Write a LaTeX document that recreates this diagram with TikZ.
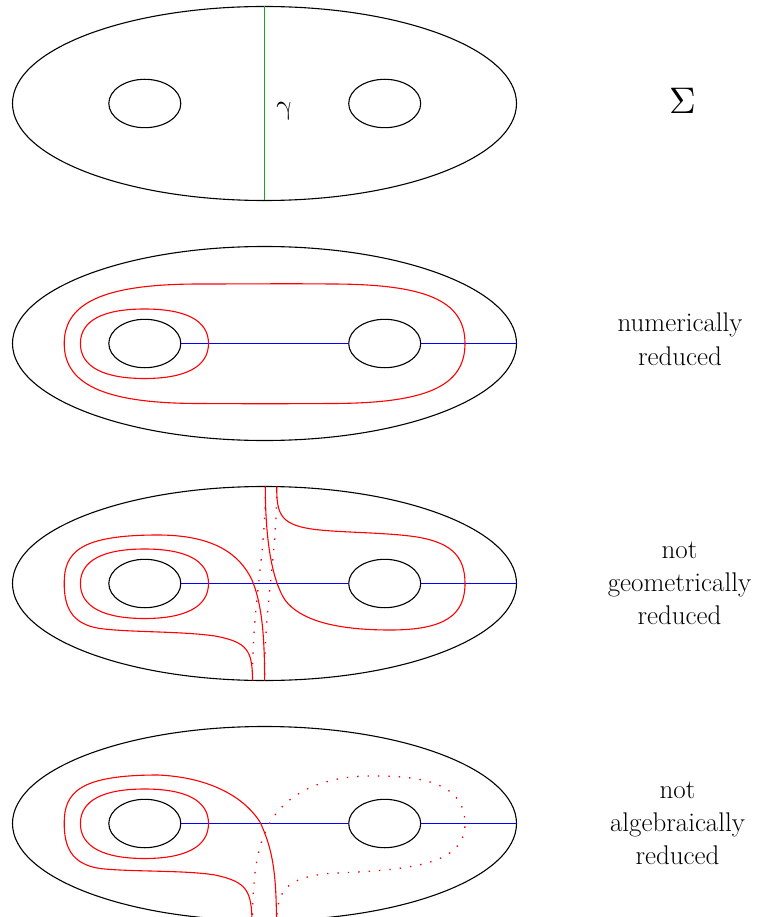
\documentclass[tikz,border=0pt]{standalone}
\usepackage{fontspec}
\newfontfamily\lmgreek{latinmodern-math.otf}
\definecolor{gcol}{RGB}{30,165,30}
\definecolor{rcol}{RGB}{255,0,0}
\begin{document}
\begin{tikzpicture}[x=1pt,y=-1pt,
  surfline/.style={draw=black,line width=1.1pt},
  bluecut/.style={blue,line width=1.5pt},
  redline/.style={draw=rcol,line width=1.1pt},
  dotline/.style={draw=rcol,line width=1.3pt,dash pattern=on 1.4pt off 9pt},
  gamline/.style={draw=gcol,line width=1.1pt},
  lbl/.style={inner sep=0pt,anchor=base,font=\fontsize{27}{33.3}\selectfont}]
\useasboundingbox (0,0) rectangle (762,917);
\clip (0,0) rectangle (762,917);

% surfaces
\foreach \s in {0,240,480,720}{
  \begin{scope}[shift={(0,\s)}]
    \draw[surfline] (264.5,103.5) ellipse [x radius=252pt, y radius=97pt];
    \draw[surfline] (144.8,103.5) ellipse [x radius=36pt, y radius=24.2pt];
    \draw[surfline] (384.7,103.5) ellipse [x radius=36pt, y radius=24.2pt];
  \end{scope}}

% gamma curve
\coordinate (gtop) at (264.5,6.5);
\coordinate (gbot) at (264.5,200.5);
\draw[gamline] (gtop) -- (gbot);

% arcs
\draw[bluecut] (180.8,343.5) -- (348.7,343.5);
\draw[bluecut] (420.7,343.5) -- (516.5,343.5);
\draw[bluecut] (180.8,583.5) -- (348.7,583.5);
\draw[bluecut] (420.7,583.5) -- (516.5,583.5);
\draw[bluecut] (180.8,823.5) -- (348.7,823.5);
\draw[bluecut] (420.7,823.5) -- (516.5,823.5);

% inner loop
\foreach \s in {240,480,720}{
  \begin{scope}[shift={(0,\s)}]
    \draw[redline] (208.5,103.5) .. controls (208.5,80) and (185,69) .. (144.5,69)
      .. controls (104,69) and (80.4,80) .. (80.4,103.5)
      .. controls (80.4,127) and (104,138.5) .. (144.5,138.5)
      .. controls (185,138.5) and (208.5,127) .. cycle;
  \end{scope}}

% panel 2
\begin{scope}[shift={(0,240)}]
  \draw[redline] (64.2,103.5) .. controls (64.2,60) and (110,44) .. (200,44)
    .. controls (240,44) and (290,43.5) .. (330,44)
    .. controls (425,44) and (465,60) .. (465,103.5)
    .. controls (465,147) and (425,163.5) .. (330,163.5)
    .. controls (290,163.8) and (240,163.8) .. (200,163.5)
    .. controls (110,163.5) and (64.2,147) .. cycle;
\end{scope}

% panel 3
\begin{scope}[shift={(0,480)}]
  \draw[redline] (252.5,200.5) .. controls (252.5,170) and (247,162) .. (215,156)
    .. controls (180,151) and (130,152.5) .. (100,148.5)
    .. controls (70,144) and (64.2,125) .. (64.2,103)
    .. controls (64.2,72) and (80,55) .. (158,55)
    .. controls (215,55) and (240,75) .. (252,100)
    .. controls (261,122) and (264.6,150) .. (264.6,200.5);
  \draw[redline] (276.7,6.5) .. controls (276.7,35) and (280,46) .. (320,50)
    .. controls (345,52.5) and (380,52.5) .. (410,56)
    .. controls (450,61) and (465,75) .. (465,103.5)
    .. controls (465,135) and (445,150) .. (390,150)
    .. controls (335,150) and (300,140) .. (285,120)
    .. controls (272,100) and (265.3,60) .. (265.3,6.5);
  \draw[dotline] (265.3,6.5) .. controls (265.3,80) and (252.5,120) .. (252.5,200.5);
  \draw[dotline] (276.7,6.5) .. controls (276.7,80) and (264.6,120) .. (264.6,200.5);
\end{scope}

% panel 4
\begin{scope}[shift={(0,720)}]
  \draw[redline] (252,205) .. controls (252,170) and (247,162) .. (215,155)
    .. controls (185,150) and (130,152) .. (100,148.5)
    .. controls (70,144) and (64.2,125) .. (64.2,103)
    .. controls (64.2,72) and (80,55) .. (158,55)
    .. controls (205,57) and (242,74) .. (260,102)
    .. controls (272,128) and (276.5,150) .. (276.5,205);
  \draw[dotline] (276.7,205) .. controls (276.7,170) and (285,158) .. (330,153.3)
    .. controls (410,150) and (465,145) .. (465,104)
    .. controls (465,62) and (420,55.9) .. (372,55.9)
    .. controls (320,55.9) and (285,75) .. (269.3,104)
    .. controls (258,125) and (252.5,150) .. (252.5,205);
\end{scope}

% labels
\node[lbl] (sigma) at (683.3,113.3) {\lmgreek\fontsize{37}{40}\selectfont Σ};
\node[lbl] (gamma) at (284.7,115) {\lmgreek\fontsize{28}{33}\selectfont γ};
\node[lbl] (numred) at (680,331.7) {\begin{tabular}[t]{@{}c@{}}numerically\\reduced\end{tabular}};
\node[lbl] (geored) at (679.5,558.3) {\begin{tabular}[t]{@{}c@{}}not\\geometrically\\reduced\end{tabular}};
\node[lbl] (algred) at (677.5,798.3) {\begin{tabular}[t]{@{}c@{}}not\\algebraically\\reduced\end{tabular}};
\end{tikzpicture}
\end{document}
